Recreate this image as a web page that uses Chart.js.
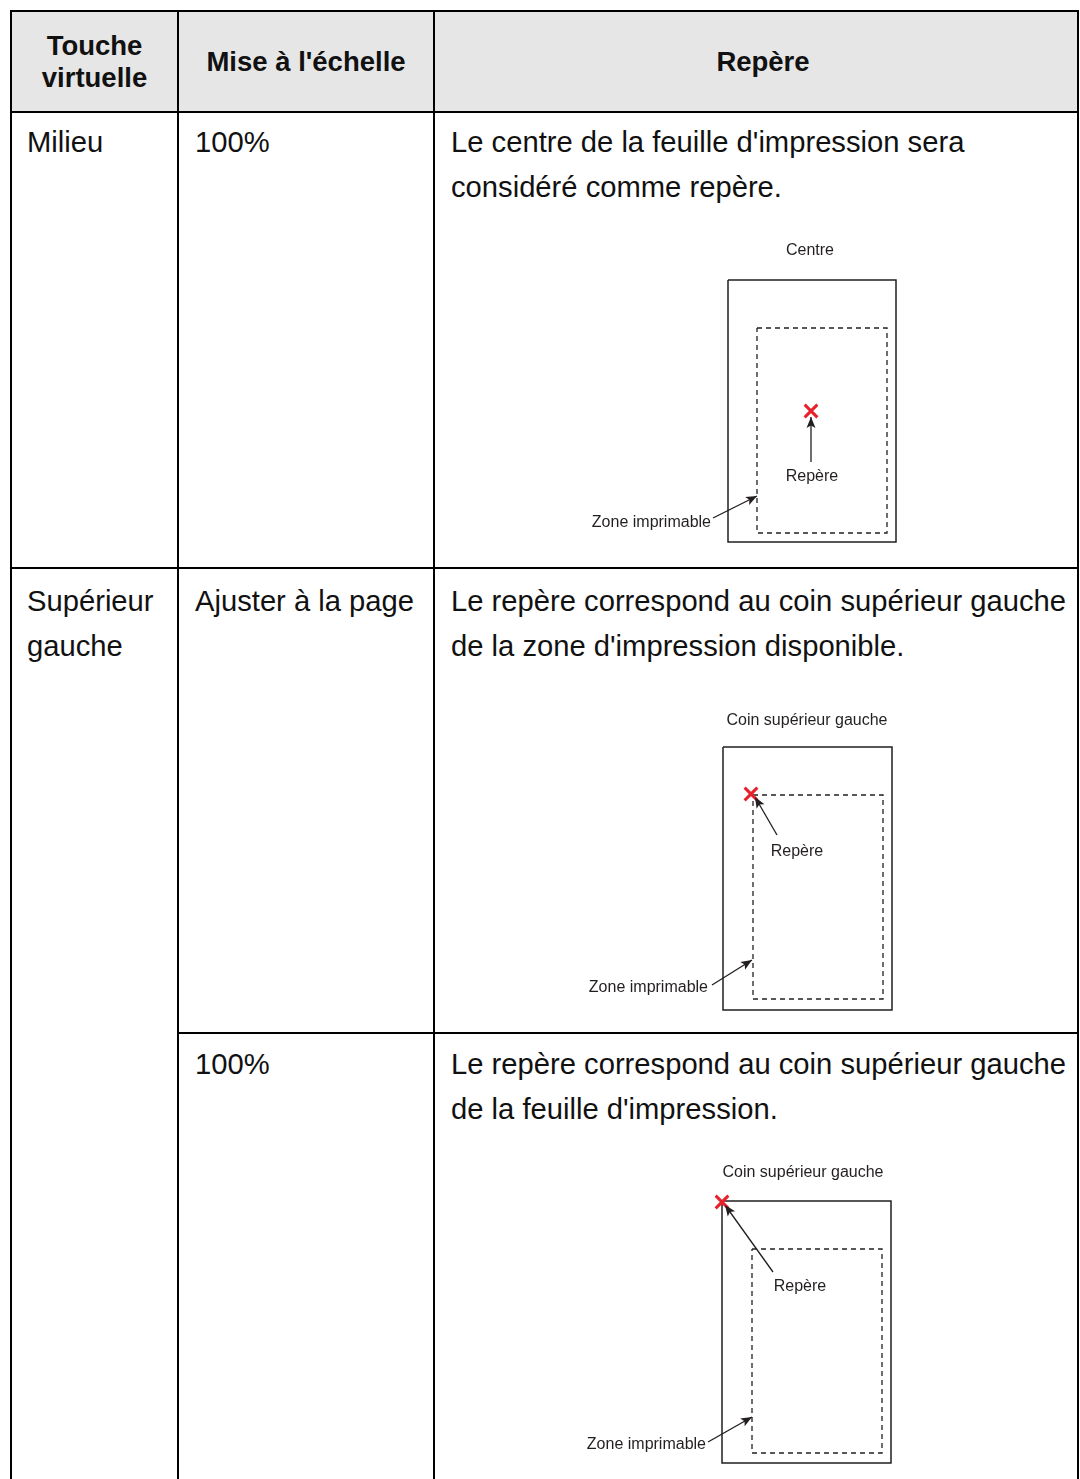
<!DOCTYPE html>
<html><head><meta charset="utf-8">
<script src="https://cdn.jsdelivr.net/npm/chart.js@4"></script>
<style>
html,body{margin:0;padding:0;background:#fff;width:1080px;height:1479px;overflow:hidden;}
#page{position:relative;width:1080px;height:1479px;overflow:hidden;font-family:"Liberation Sans",Arial,sans-serif;color:#111;}
.cell{position:absolute;box-sizing:border-box;border:2px solid #000;}
.hd{background:#e6e6e6;display:flex;align-items:center;justify-content:center;text-align:center;font-weight:bold;font-size:27.5px;line-height:32px;}
.bd{font-size:29.2px;line-height:45px;padding-top:7px;white-space:nowrap;}
.dg{position:absolute;z-index:2;}
</style></head><body><div id="page"></div>
<script>
// ---- table text ----
const headerLabels = [["Touche","virtuelle"],["Mise à l'échelle"],["Repère"]];
const keyLabels = [["Milieu"],["Supérieur","gauche"]];
const scaleLabels = [["100%"],["Ajuster à la page"],["100%"]];
const refTexts = [
  ["Le centre de la feuille d'impression sera","considéré comme repère."],
  ["Le repère correspond au coin supérieur gauche","de la zone d'impression disponible."],
  ["Le repère correspond au coin supérieur gauche","de la feuille d'impression."]
];
// ---- diagram content (sheet units, origin = sheet top-left) ----
const diagramTitles = ["Centre","Coin supérieur gauche","Coin supérieur gauche"];
const markerName = "Repère";
const zoneName = "Zone imprimable";
const sheetW = [168,169,169];
const sheetH = [262,263,262];
const zoneLeft = [29,30,30];
const zoneTop = [48,48,48];
const zoneRight = [159,160,160];
const zoneBottom = [253,252,252];
const markerX = [83,28,0];
const markerY = [131,47,1];
const markerArrowFrom = [[83,182],[54,88],[51,71]];
const markerArrowTo = [[83,137],[32,50],[3,4]];
const zoneArrowFrom = [[-15,238],[-11,238],[-14,241]];
const zoneArrowTo = [[29,216],[29,213],[30,216]];
const titleAt = [[82,-29],[84,-26],[81,-28]];
const markerLabelAt = [[84,197],[74,105],[78,86]];
const zoneLabelAt = [[-17,243],[-15,241],[-16,244]];

// ---- layout ----
const colX = [10,177,433,1079];
const rowY = [10,111,567,1032];
const diagramOrigin = [[728,280],[723,747],[722,1201]];
const INK = '#231f20', RED = '#e8202a';

const page = document.getElementById('page');
function cell(x0,y0,x1,y1,cls,lines,padL){
  const d=document.createElement('div');
  d.className='cell '+cls;
  d.style.left=x0+'px';d.style.top=y0+'px';
  d.style.width=(x1-x0)+'px';d.style.height=(y1-y0)+'px';
  if(padL!==undefined) d.style.paddingLeft=padL+'px';
  const s=document.createElement('div');
  s.innerHTML=lines.map(t=>t.replace(/&/g,'&amp;').replace(/</g,'&lt;')).join('<br>');
  d.appendChild(s);
  page.appendChild(d);
  return d;
}
// header
cell(colX[0],rowY[0],colX[1]+2,rowY[1]+2,'hd',headerLabels[0]);
cell(colX[1],rowY[0],colX[2]+2,rowY[1]+2,'hd',headerLabels[1]);
const h3=cell(colX[2],rowY[0],colX[3],rowY[1]+2,'hd',headerLabels[2]);
h3.style.paddingLeft='14px';
// row 1
cell(colX[0],rowY[1],colX[1]+2,rowY[2]+2,'bd',keyLabels[0],15);
cell(colX[1],rowY[1],colX[2]+2,rowY[2]+2,'bd',scaleLabels[0],16);
cell(colX[2],rowY[1],colX[3],rowY[2]+2,'bd',refTexts[0],16);
// row 2 + 3
const c21=cell(colX[0],rowY[2],colX[1]+2,rowY[2]+1200,'bd',keyLabels[1],15);
const c22=cell(colX[1],rowY[2],colX[2]+2,rowY[3]+2,'bd',scaleLabels[1],16);
const c23=cell(colX[2],rowY[2],colX[3],rowY[3]+2,'bd',refTexts[1],16);
[c21,c22,c23].forEach(c=>c.style.paddingTop='10px');
const c32=cell(colX[1],rowY[3],colX[2]+2,rowY[3]+800,'bd',scaleLabels[2],16);
const c33=cell(colX[2],rowY[3],colX[3],rowY[3]+800,'bd',refTexts[2],16);
[c32,c33].forEach(c=>c.style.paddingTop='8px');

// ---- diagrams with Chart.js ----
const arrowPlugin = {
  id:'arrows',
  afterDatasetsDraw(chart){
    const ctx=chart.ctx;
    chart.data.datasets.forEach((ds,i)=>{
      if(!ds.arrow) return;
      const pts=chart.getDatasetMeta(i).data;
      const a=pts[0], b=pts[1];
      const ang=Math.atan2(b.y-a.y,b.x-a.x);
      const L=11, W=4.5;
      ctx.save();
      ctx.translate(b.x,b.y);ctx.rotate(ang);
      ctx.beginPath();ctx.moveTo(0,0);ctx.lineTo(-L,-W);ctx.lineTo(-L*0.78,0);ctx.lineTo(-L,W);ctx.closePath();
      ctx.fillStyle=INK;ctx.fill();
      ctx.restore();
    });
  }
};
const labelPlugin = {
  id:'labels',
  afterDatasetsDraw(chart,args,opts){
    const ctx=chart.ctx, sx=chart.scales.x, sy=chart.scales.y;
    ctx.save();
    ctx.font='16px "Liberation Sans", Arial, sans-serif';
    ctx.fillStyle=INK;ctx.textBaseline='middle';
    (opts.items||[]).forEach(it=>{
      ctx.textAlign=it.align;
      ctx.fillText(it.text,sx.getPixelForValue(it.x),sy.getPixelForValue(it.y));
    });
    ctx.restore();
  }
};
function rect(l,t,r,b){return [{x:l,y:t},{x:r,y:t},{x:r,y:b},{x:l,y:b},{x:l,y:t}];}
function pt(p){return {x:p[0],y:p[1]};}

for(let i=0;i<3;i++){
  const cv=document.createElement('canvas');
  cv.width=330;cv.height=330;cv.className='dg';
  cv.style.left=(diagramOrigin[i][0]-150)+'px';
  cv.style.top=(diagramOrigin[i][1]-50)+'px';
  page.appendChild(cv);
  new Chart(cv,{
    type:'scatter',
    data:{datasets:[
      {data:[{x:markerX[i],y:markerY[i]}],showLine:false,pointStyle:'crossRot',pointRadius:9,pointBorderWidth:3,pointBorderColor:RED,pointBackgroundColor:RED,clip:false},
      {data:[pt(markerArrowFrom[i]),pt(markerArrowTo[i])],showLine:true,borderColor:INK,borderWidth:1.3,pointRadius:0,arrow:true,clip:false},
      {data:[pt(zoneArrowFrom[i]),pt(zoneArrowTo[i])],showLine:true,borderColor:INK,borderWidth:1.3,pointRadius:0,arrow:true,clip:false},
      {data:rect(zoneLeft[i],zoneTop[i],zoneRight[i],zoneBottom[i]),showLine:true,borderColor:INK,borderWidth:1.3,borderDash:[5,4],pointRadius:0,clip:false},
      {data:rect(0,0,sheetW[i],sheetH[i]),showLine:true,borderColor:INK,borderWidth:1.5,pointRadius:0,clip:false}
    ]},
    options:{
      responsive:false,animation:false,events:[],
      layout:{padding:0,autoPadding:false},
      scales:{
        x:{type:'linear',display:false,min:-150,max:180},
        y:{type:'linear',display:false,min:-50,max:280,reverse:true}
      },
      plugins:{
        legend:{display:false},tooltip:{enabled:false},
        labels:{items:[
          {text:diagramTitles[i],x:titleAt[i][0],y:titleAt[i][1],align:'center'},
          {text:markerName,x:markerLabelAt[i][0],y:markerLabelAt[i][1],align:'center'},
          {text:zoneName,x:zoneLabelAt[i][0],y:zoneLabelAt[i][1],align:'right'}
        ]}
      }
    },
    plugins:[arrowPlugin,labelPlugin]
  });
}
</script></body></html>
